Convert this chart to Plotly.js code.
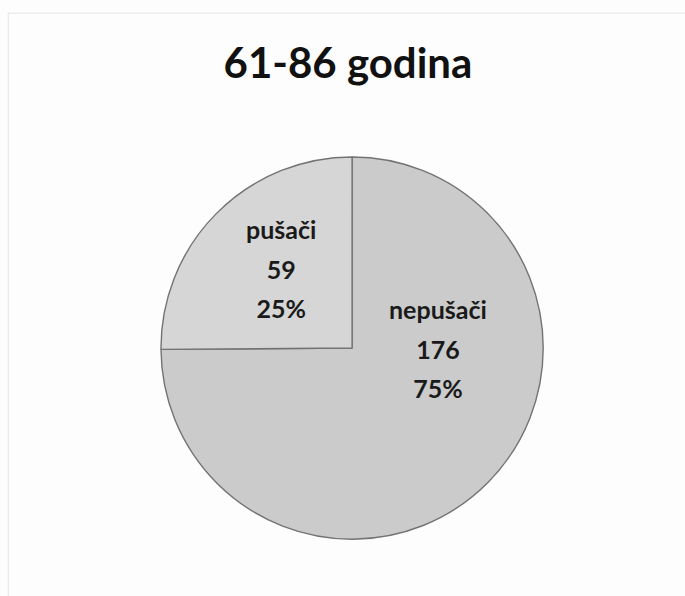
<!DOCTYPE html>
<html>
<head>
<meta charset="utf-8">
<script src="https://cdn.plot.ly/plotly-3.0.1.min.js"></script>
<style>html,body{margin:0;padding:0;background:#fdfdfd;}#chart{width:685px;height:596px;}</style>
</head>
<body>
<div id="chart"></div>
<script>
// ---- data ----
const categories = ["nepušači", "pušači"];
const values = [176, 59];
const percents = ["75%", "25%"];
const chartTitle = "61-86 godina";

// ---- style / layout parameters ----
const W = 685, H = 596;
const domainX = [0.235, 0.793];
const domainY = [0.095, 0.737];
const labelAngleFrac = [0.335, 0.54];   // where inside each slice (fraction of its sweep) the label sits
const labelRadiusFrac = [0.45, 0.56];   // distance from centre as fraction of radius
const fontFamily = "Lato, 'Open Sans', sans-serif";
const glyphSize = 25;
const lineBoxSize = 30.5;               // gives ~40px line pitch like the original

const trace = {
  type: "pie",
  labels: categories,
  values: values,
  sort: false,
  direction: "clockwise",
  rotation: 0,
  textinfo: "none",
  hoverinfo: "label+value+percent",
  marker: {
    colors: ["#cbcbcb", "#d6d6d6"],
    line: { color: "#737373", width: 1.4 }
  },
  domain: { x: domainX, y: domainY },
  showlegend: false
};

// geometry of the pie as Plotly lays it out (radius = half the smaller domain side)
const pxW = (domainX[1] - domainX[0]) * W;
const pxH = (domainY[1] - domainY[0]) * H;
const R = Math.min(pxW, pxH) / 2;
const cxP = (domainX[0] + domainX[1]) / 2;
const cyP = (domainY[0] + domainY[1]) / 2;
const total = values.reduce((a, b) => a + b, 0);

const annotations = [];
let cum = 0;
values.forEach((v, i) => {
  const a0 = cum / total * 2 * Math.PI;
  const a1 = (cum + v) / total * 2 * Math.PI;
  cum += v;
  const ang = a0 + (a1 - a0) * labelAngleFrac[i];   // clockwise from 12 o'clock
  const rr = R * labelRadiusFrac[i];
  const sp = s => '<span style="font-size:' + glyphSize + 'px">' + s + '</span>';
  annotations.push({
    xref: "paper", yref: "paper",
    x: cxP + rr * Math.sin(ang) / W,
    y: cyP + rr * Math.cos(ang) / H,
    xanchor: "center", yanchor: "middle",
    showarrow: false,
    align: "center",
    text: sp(categories[i]) + "<br>" + sp(String(values[i])) + "<br>" + sp(percents[i]),
    font: { family: fontFamily, size: lineBoxSize, color: "#1a1a1a", weight: "bold" }
  });
});

const layout = {
  width: W,
  height: H,
  paper_bgcolor: "#fdfdfd",
  margin: { l: 0, r: 0, t: 0, b: 0 },
  title: {
    text: "<b>" + chartTitle + "</b>",
    font: { family: fontFamily, size: 42, color: "#111111" },
    x: 0.508, xanchor: "center",
    y: 0.894, yanchor: "middle"
  },
  annotations: annotations,
  shapes: [{
    type: "rect", xref: "paper", yref: "paper",
    x0: 0.012, x1: 1.02, y0: -0.02, y1: 0.978,
    line: { color: "#e4e4e4", width: 1 }
  }]
};

Plotly.newPlot("chart", [trace], layout, { displayModeBar: false, staticPlot: true });
</script>
</body>
</html>
